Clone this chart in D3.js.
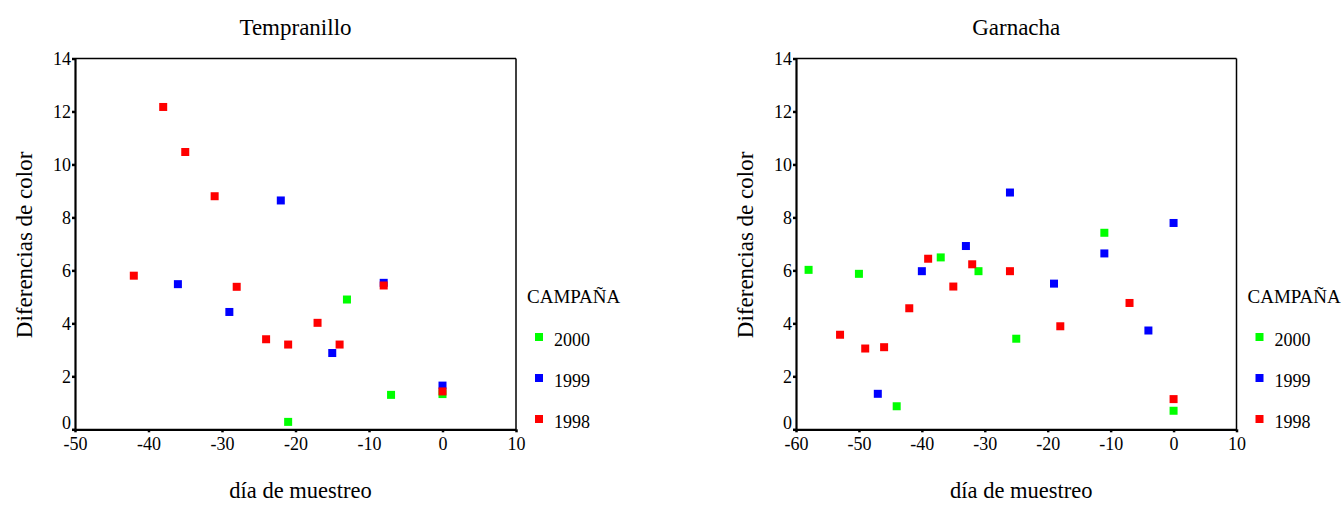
<!DOCTYPE html>
<html><head><meta charset="utf-8">
<script src="https://cdn.jsdelivr.net/npm/d3@7"></script>
<style>body{margin:0;background:#fff}svg{display:block}svg text{font-family:"Liberation Serif",serif !important;fill:#000}</style>
</head><body><svg id="c" width="1343" height="507"></svg>
<script>
// ---- Data ----
const series = ["2000", "1999", "1998"];
const seriesColors = ["#00ff00", "#0000ff", "#ff0000"];
const yTicks = [0, 2, 4, 6, 8, 10, 12, 14];

// Tempranillo
const tempX2000 = [-21, -13, -7, 0];
const tempY2000 = [0.28, 4.9, 1.3, 1.33];
const tempX1999 = [-36, -29, -22, -15, -8, 0];
const tempY1999 = [5.48, 4.43, 8.64, 2.88, 5.53, 1.65];
const tempX1998 = [-42, -38, -35, -31, -28, -24, -21, -17, -14, -8, 0];
const tempY1998 = [5.8, 12.17, 10.47, 8.8, 5.38, 3.4, 3.2, 4.02, 3.2, 5.43, 1.43];
const tempXTicks = [-50, -40, -30, -20, -10, 0, 10];

// Garnacha
const garX2000 = [-58, -50, -44, -37, -31, -25, -11, 0];
const garY2000 = [6.02, 5.87, 0.87, 6.49, 5.97, 3.42, 7.42, 0.7];
const garX1999 = [-47, -40, -33, -26, -19, -11, -4, 0];
const garY1999 = [1.34, 5.97, 6.92, 8.94, 5.5, 6.64, 3.73, 7.79];
const garX1998 = [-53, -49, -46, -42, -39, -35, -32, -26, -18, -7, 0];
const garY1998 = [3.57, 3.05, 3.1, 4.57, 6.44, 5.39, 6.23, 5.97, 3.89, 4.77, 1.14];
const garXTicks = [-60, -50, -40, -30, -20, -10, 0, 10];

const svg = d3.select("#c");
const FF = "'Liberation Serif', serif";

function panel(opt) {
  const g = svg.append("g");
  const x = d3.scaleLinear().domain(opt.xDomain).range([opt.left, opt.right]);
  const y = d3.scaleLinear().domain([0, 14]).range([opt.bottom, opt.top]);

  // frame top/right
  g.append("line").attr("x1", opt.left).attr("x2", opt.right).attr("y1", opt.top).attr("y2", opt.top)
    .attr("stroke", "#000").attr("stroke-width", 1.5);
  g.append("line").attr("x1", opt.right).attr("x2", opt.right).attr("y1", opt.top).attr("y2", opt.bottom)
    .attr("stroke", "#000").attr("stroke-width", 1.5);

  const xa = g.append("g").attr("transform", `translate(0,${opt.bottom})`)
    .call(d3.axisBottom(x).tickValues(opt.xTicks).tickFormat(d3.format("d")).tickSize(3).tickSizeOuter(0));
  const ya = g.append("g").attr("transform", `translate(${opt.left},0)`)
    .call(d3.axisLeft(y).tickValues(yTicks).tickFormat(d3.format("d")).tickSize(3).tickSizeOuter(0));
  [xa, ya].forEach(a => {
    a.attr("font-family", null).attr("font-size", null);
    a.select(".domain").attr("stroke", "#000").attr("stroke-width", 2.2);
    a.selectAll(".tick line").attr("stroke", "#000").attr("stroke-width", 2.5);
    a.selectAll(".tick text").style("font-family", FF).style("font-size", "18px").attr("fill", "#000");
  });
  xa.selectAll(".tick text").attr("y", 5).attr("dy", "0.9em").text(d => d < 0 ? "-" + (-d) : d);
  ya.selectAll(".tick text").attr("x", -4).attr("y", d => d === 0 ? -7 : 0);

  const ms = 8;
  opt.data.forEach((s, i) => {
    g.append("g").selectAll("rect").data(s.x.map((v, j) => [v, s.y[j]])).join("rect")
      .attr("x", d => x(d[0]) - ms / 2).attr("y", d => y(d[1]) - ms / 2)
      .attr("width", ms).attr("height", ms).attr("fill", seriesColors[i]);
  });

  const cx = (opt.left + opt.right) / 2;
  const txt = (sel, size) => sel.style("font-family", FF).style("font-size", size + "px");
  txt(g.append("text").attr("x", cx).attr("y", 35).attr("text-anchor", "middle"), 23).text(opt.title);
  txt(g.append("text").attr("x", cx + 5).attr("y", 498).attr("text-anchor", "middle"), 22.5).text("día de muestreo");
  txt(g.append("text").attr("transform", `translate(${opt.left - 43},${(opt.top + opt.bottom) / 2 + 1}) rotate(-90)`)
    .attr("text-anchor", "middle"), 23).text("Diferencias de color");

  // legend
  const lx = opt.right + 11;
  txt(g.append("text").attr("x", lx).attr("y", 303), 19).text("CAMPAÑA");
  series.forEach((s, i) => {
    const yy = 337 + i * 41;
    g.append("rect").attr("x", lx + 8).attr("y", yy - 4).attr("width", 8).attr("height", 8).attr("fill", seriesColors[i]);
    txt(g.append("text").attr("x", lx + 27).attr("y", yy + 9), 18).text(s);
  });
}

panel({
  title: "Tempranillo", xDomain: [-50, 10], xTicks: tempXTicks,
  left: 75, right: 516, top: 58.5, bottom: 429.3,
  data: [{x: tempX2000, y: tempY2000}, {x: tempX1999, y: tempY1999}, {x: tempX1998, y: tempY1998}]
});
panel({
  title: "Garnacha", xDomain: [-60, 10], xTicks: garXTicks,
  left: 796, right: 1236.5, top: 58.5, bottom: 429.3,
  data: [{x: garX2000, y: garY2000}, {x: garX1999, y: garY1999}, {x: garX1998, y: garY1998}]
});
</script></body></html>
